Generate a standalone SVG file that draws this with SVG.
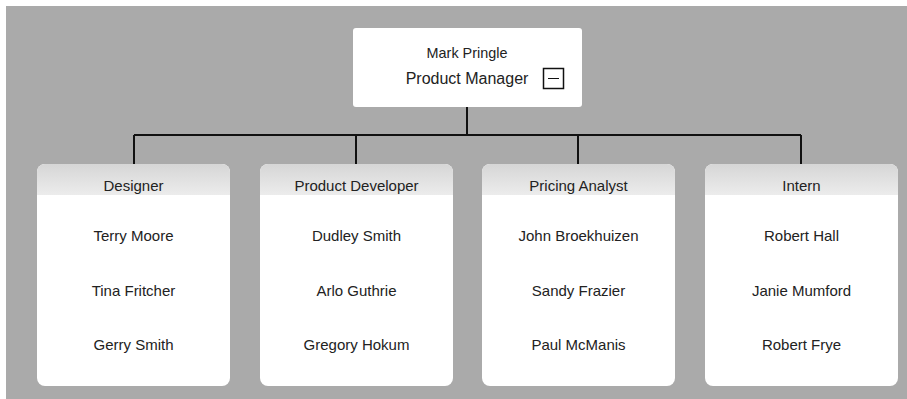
<svg xmlns="http://www.w3.org/2000/svg" width="907" height="399" viewBox="0 0 907 399">
<style>
.t{font-family:"Liberation Sans",Arial,sans-serif;font-size:15px;fill:#222;text-anchor:middle}
.card{fill:#fff}
.hdr{fill:url(#g)}
.ln{stroke:#111;stroke-width:2;fill:none}
</style>
<defs>
<linearGradient id="g" x1="0" y1="0" x2="0" y2="1">
<stop offset="0" stop-color="#d6d6d6"/>
<stop offset="1" stop-color="#ececec"/>
</linearGradient>
<clipPath id="c1"><rect x="37" y="164" width="193" height="222" rx="8"/></clipPath>
<clipPath id="c2"><rect x="260" y="164" width="193" height="222" rx="8"/></clipPath>
<clipPath id="c3"><rect x="482" y="164" width="193" height="222" rx="8"/></clipPath>
<clipPath id="c4"><rect x="705" y="164" width="193" height="222" rx="8"/></clipPath>
</defs>
<rect x="6" y="6" width="901" height="393" fill="#aaaaaa"/>
<g id="connectors">
<path class="ln" d="M467 107V135M134 135H801M134 135V164M356 135V164M578 135V164M801 135V164"/>
</g>
<g id="manager">
<rect class="card" x="353" y="28" width="229" height="79" rx="3"/>
<text class="t" x="467" y="58" style="font-size:14.4px">Mark Pringle</text>
<text class="t" x="467" y="84" style="font-size:16px">Product Manager</text>
<rect x="543.5" y="68.5" width="20" height="20" fill="none" stroke="#111" stroke-width="1.5"/>
<line x1="548" y1="78.5" x2="559" y2="78.5" stroke="#111" stroke-width="1"/>
</g>
<g id="designer">
<rect class="card" x="37" y="164" width="193" height="222" rx="8"/>
<rect class="hdr" x="37" y="164" width="193" height="31" clip-path="url(#c1)"/>
<text class="t" x="133.5" y="191">Designer</text>
<text class="t" x="133.5" y="241">Terry Moore</text>
<text class="t" x="133.5" y="296">Tina Fritcher</text>
<text class="t" x="133.5" y="350">Gerry Smith</text>
</g>
<g id="developer">
<rect class="card" x="260" y="164" width="193" height="222" rx="8"/>
<rect class="hdr" x="260" y="164" width="193" height="31" clip-path="url(#c2)"/>
<text class="t" x="356.5" y="191">Product Developer</text>
<text class="t" x="356.5" y="241">Dudley Smith</text>
<text class="t" x="356.5" y="296">Arlo Guthrie</text>
<text class="t" x="356.5" y="350">Gregory Hokum</text>
</g>
<g id="analyst">
<rect class="card" x="482" y="164" width="193" height="222" rx="8"/>
<rect class="hdr" x="482" y="164" width="193" height="31" clip-path="url(#c3)"/>
<text class="t" x="578.5" y="191">Pricing Analyst</text>
<text class="t" x="578.5" y="241">John Broekhuizen</text>
<text class="t" x="578.5" y="296">Sandy Frazier</text>
<text class="t" x="578.5" y="350">Paul McManis</text>
</g>
<g id="intern">
<rect class="card" x="705" y="164" width="193" height="222" rx="8"/>
<rect class="hdr" x="705" y="164" width="193" height="31" clip-path="url(#c4)"/>
<text class="t" x="801.5" y="191">Intern</text>
<text class="t" x="801.5" y="241">Robert Hall</text>
<text class="t" x="801.5" y="296">Janie Mumford</text>
<text class="t" x="801.5" y="350">Robert Frye</text>
</g>
</svg>
